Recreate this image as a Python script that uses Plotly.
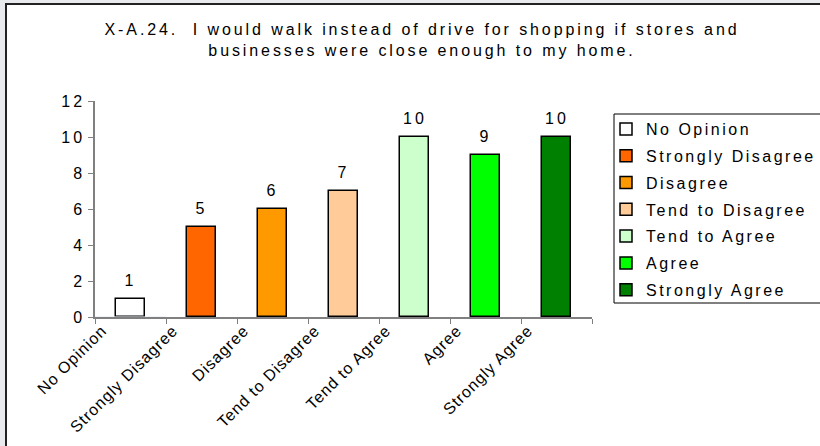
import plotly.graph_objects as go

categories = ["No Opinion", "Strongly Disagree", "Disagree", "Tend to Disagree",
              "Tend to Agree", "Agree", "Strongly Agree"]
values = [1, 5, 6, 7, 10, 9, 10]
colors = ["#FFFFFF", "#FF6600", "#FF9900", "#FFCC99", "#CCFFCC", "#00FF00", "#008000"]
y_ticks = [0, 2, 4, 6, 8, 10, 12]
title_text = "X-A.24.  I would walk instead of drive for shopping if stores and<br>businesses were close enough to my home."

FONT = "Liberation Sans, Arial, sans-serif"
FS = 16

W, H = 820, 446
L, R, T, B = 95, 228, 101, 129
pw, ph = W - L - R, H - T - B

def px_x(px):
    return (px - L) / pw

def px_y(py):
    return (H - B - py) / ph

fig = go.Figure()
xs = list(range(len(categories)))
for i, (c, v, col) in enumerate(zip(categories, values, colors)):
    fig.add_trace(go.Bar(
        x=[xs[i]], y=[v], name=c, width=0.41,
        marker=dict(color=col, line=dict(color="#000000", width=1.5)),
        legendgroup=c, showlegend=True, hoverinfo="x+y",
    ))
    fig.add_annotation(x=xs[i], y=v, text=str(v), showarrow=False,
                       yanchor="bottom", yshift=8,
                       font=dict(family=FONT, size=FS, color="#000000"))

# outer chart frame
fig.add_shape(type="rect", xref="paper", yref="paper",
              x0=px_x(6), x1=px_x(840), y0=px_y(470), y1=px_y(4),
              fillcolor="#FFFFFF", line=dict(color="#222222", width=2), layer="below")
# legend frame
fig.add_shape(type="rect", xref="paper", yref="paper",
              x0=px_x(614), x1=px_x(840), y0=px_y(303), y1=px_y(114),
              fillcolor="rgba(0,0,0,0)", line=dict(color="#000000", width=1), layer="above")

fig.update_layout(
    width=W, height=H,
    margin=dict(l=L, r=R, t=T, b=B),
    paper_bgcolor="#E8EAED", plot_bgcolor="rgba(0,0,0,0)",
    title=dict(text=title_text, x=422 / W, xanchor="center",
               y=1 - 35 / H, yanchor="middle", yref="container",
               font=dict(family=FONT, size=FS, color="#000000")),
    barmode="overlay",
    bargap=0,
    xaxis=dict(range=[-0.5, len(categories) - 0.5], tickmode="array",
               tickvals=[i - 0.5 for i in range(len(categories) + 1)],
               ticktext=[""] * (len(categories) + 1),
               ticks="outside", ticklen=5, tickcolor="#808080",
               showline=True, linecolor="#808080", linewidth=1.5,
               showgrid=False, zeroline=False, fixedrange=True),
    xaxis2=dict(overlaying="x", matches="x", side="bottom", anchor="y",
                tickmode="array", tickvals=[i - 0.40 for i in xs],
                ticktext=categories, tickangle=-45, ticks="",
                showline=False, showgrid=False, zeroline=False,
                tickfont=dict(family=FONT, size=FS, color="#000000")),
    yaxis=dict(range=[0, 12], tickmode="array", tickvals=y_ticks,
               ticks="outside", ticklen=5, tickcolor="#808080",
               showline=True, linecolor="#808080", linewidth=1.5,
               showgrid=False, zeroline=False,
               tickfont=dict(family=FONT, size=FS, color="#000000")),
    legend=dict(x=px_x(606), y=px_y(112), xanchor="left", yanchor="top",
                bgcolor="rgba(0,0,0,0)", borderwidth=0,
                font=dict(family=FONT, size=FS, color="#000000"),
                tracegroupgap=3, itemclick=False, itemdoubleclick=False),
    showlegend=True,
)
# invisible trace on xaxis2 so its labels render
fig.add_trace(go.Bar(x=[0], y=[0], xaxis="x2", showlegend=False, hoverinfo="skip",
                     marker=dict(color="rgba(0,0,0,0)")))

post = """
document.body.style.margin = '0';
document.body.style.background = '#E8EAED';
function sp(sel, v){ document.querySelectorAll(sel).forEach(function(e){ e.style.letterSpacing = v; }); }
sp('.gtitle', '2.9px');
sp('.legendtext', '2.5px');
sp('.ytick text', '3px');
sp('.x2tick text', '1px');
sp('.annotation-text', '3px');
document.querySelectorAll('.legend .scrollbox').forEach(function(e){ e.removeAttribute('clip-path'); });
"""
fig.write_html("out.html", post_script=post, config={"displayModeBar": False})
